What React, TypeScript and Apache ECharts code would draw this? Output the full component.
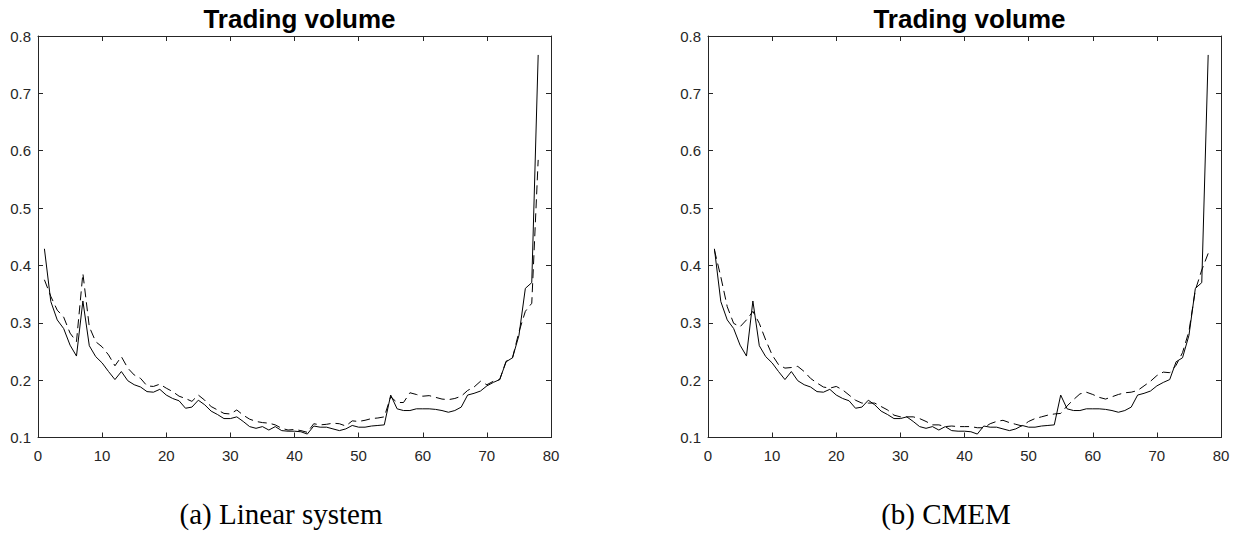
import React, { useEffect, useRef } from "react";
import * as echarts from "echarts";

const titleText = "Trading volume";
const captions = ["(a) Linear system", "(b) CMEM"];
const xTicks = { min: 0, max: 80, interval: 10 };
const yTicks = { min: 0.1, max: 0.8, interval: 0.1 };

// actual trading volume (solid, identical in both panels)
const actual = [
  0.429, 0.337, 0.305, 0.29, 0.261, 0.242, 0.338, 0.26, 0.241, 0.23,
  0.215, 0.201, 0.215, 0.199, 0.192, 0.188, 0.18, 0.179, 0.184, 0.174,
  0.168, 0.164, 0.151, 0.153, 0.165, 0.157, 0.146, 0.14, 0.133, 0.133,
  0.136, 0.128, 0.119, 0.116, 0.119, 0.113, 0.119, 0.112, 0.111, 0.111,
  0.11, 0.106, 0.12, 0.118, 0.118, 0.115, 0.112, 0.115, 0.121, 0.118,
  0.118, 0.12, 0.121, 0.122, 0.174, 0.15, 0.147, 0.147, 0.15, 0.15,
  0.15, 0.149, 0.147, 0.144, 0.147, 0.153, 0.174, 0.177, 0.181, 0.19,
  0.196, 0.201, 0.232, 0.239, 0.278, 0.36, 0.37, 0.767,
];

// linear system forecast (dashed, left panel)
const linear = [
  0.375, 0.346, 0.322, 0.31, 0.282, 0.267, 0.386, 0.293, 0.267, 0.258,
  0.244, 0.225, 0.241, 0.221, 0.209, 0.203, 0.19, 0.189, 0.193, 0.186,
  0.18, 0.172, 0.168, 0.163, 0.174, 0.165, 0.154, 0.148, 0.142, 0.141,
  0.148, 0.139, 0.132, 0.128, 0.126, 0.125, 0.122, 0.116, 0.113, 0.114,
  0.112, 0.109, 0.124, 0.122, 0.123, 0.125, 0.124, 0.12, 0.129, 0.128,
  0.13, 0.133, 0.134, 0.136, 0.171, 0.161, 0.161, 0.178, 0.175, 0.172,
  0.173, 0.17, 0.167, 0.166, 0.168, 0.172, 0.182, 0.188, 0.198, 0.192,
  0.198, 0.201, 0.233, 0.239, 0.284, 0.32, 0.334, 0.584,
];

// CMEM forecast (dashed, right panel)
const cmem = [
  0.427, 0.38, 0.328, 0.299, 0.293, 0.305, 0.32, 0.299, 0.27, 0.244,
  0.227, 0.221, 0.222, 0.224, 0.215, 0.203, 0.195, 0.188, 0.186, 0.189,
  0.183, 0.174, 0.165, 0.16, 0.16, 0.16, 0.154, 0.148, 0.139, 0.136,
  0.136, 0.136, 0.133, 0.128, 0.122, 0.122, 0.119, 0.12, 0.119, 0.119,
  0.119, 0.117, 0.117, 0.124, 0.128, 0.13, 0.126, 0.123, 0.12, 0.128,
  0.133, 0.136, 0.139, 0.141, 0.142, 0.155, 0.166, 0.176, 0.179, 0.175,
  0.17, 0.167, 0.171, 0.175, 0.178, 0.179, 0.182, 0.19, 0.198, 0.208,
  0.214, 0.213, 0.226, 0.248, 0.285, 0.357, 0.392, 0.421,
];

const AXIS_COLOR = "#262626";
const FONT = "'Liberation Sans', Arial, Helvetica, sans-serif";
const SERIF = "'Liberation Serif', 'Times New Roman', serif";

export default function App() {
  const ref = useRef<HTMLDivElement>(null);

  useEffect(() => {
    if (!ref.current) return;
    const chart = echarts.init(ref.current, undefined, { renderer: "svg" });

    const grids = [
      { left: 38, top: 36, width: 513, height: 401.5 },
      { left: 708, top: 36, width: 513, height: 401.5 },
    ];

    const xAxes: any[] = [];
    const yAxes: any[] = [];
    const lineStyle = { color: AXIS_COLOR, width: 1 };
    grids.forEach((_, gi) => {
      xAxes.push({
        type: "value",
        gridIndex: gi,
        position: "bottom",
        ...xTicks,
        axisLine: { show: true, onZero: false, lineStyle },
        axisTick: { show: true, inside: true, length: 5, lineStyle: { color: AXIS_COLOR } },
        axisLabel: { show: true, color: AXIS_COLOR, fontSize: 15, fontFamily: FONT, margin: 10 },
        splitLine: { show: false },
      });
      xAxes.push({
        type: "value",
        gridIndex: gi,
        position: "top",
        ...xTicks,
        axisLine: { show: true, onZero: false, lineStyle },
        axisTick: { show: true, inside: true, length: 5, lineStyle: { color: AXIS_COLOR } },
        axisLabel: { show: false },
        splitLine: { show: false },
      });
      yAxes.push({
        type: "value",
        gridIndex: gi,
        position: "left",
        ...yTicks,
        axisLine: { show: true, onZero: false, lineStyle },
        axisTick: { show: true, inside: true, length: 5, lineStyle: { color: AXIS_COLOR } },
        axisLabel: {
          show: true,
          color: AXIS_COLOR,
          fontSize: 15,
          fontFamily: FONT,
          margin: 7,
          formatter: (v: number) => v.toFixed(1),
        },
        splitLine: { show: false },
      });
      yAxes.push({
        type: "value",
        gridIndex: gi,
        position: "right",
        ...yTicks,
        axisLine: { show: true, onZero: false, lineStyle },
        axisTick: { show: true, inside: true, length: 5, lineStyle: { color: AXIS_COLOR } },
        axisLabel: { show: false },
        splitLine: { show: false },
      });
    });

    const toPts = (arr: number[]) => arr.map((v, i) => [i + 1, v]);

    const solid = (gi: number) => ({
      type: "line",
      xAxisIndex: gi * 2,
      yAxisIndex: gi * 2,
      data: toPts(actual),
      showSymbol: false,
      symbol: "none",
      lineStyle: { color: "#000", width: 1 },
      z: 3,
    });
    const dashed = (gi: number, arr: number[]) => ({
      type: "line",
      xAxisIndex: gi * 2,
      yAxisIndex: gi * 2,
      data: toPts(arr),
      showSymbol: false,
      symbol: "none",
      lineStyle: { color: "#000", width: 1, type: [9, 5] },
      z: 2,
    });

    const titleStyle = { fontFamily: FONT, fontWeight: "bold", fontSize: 26, color: "#000" };

    chart.setOption({
      animation: false,
      backgroundColor: "#fff",
      grid: grids,
      xAxis: xAxes,
      yAxis: yAxes,
      title: [
        { text: titleText, left: 38 + 513 / 2, textAlign: "center", top: 1, textStyle: titleStyle },
        { text: titleText, left: 708 + 513 / 2, textAlign: "center", top: 1, textStyle: titleStyle },
      ],
      graphic: [
        {
          type: "text",
          x: 281,
          y: 514,
          style: {
            text: captions[0],
            fontFamily: SERIF,
            fontSize: 29,
            fill: "#000",
            align: "center",
            verticalAlign: "middle",
          },
        },
        {
          type: "text",
          x: 946,
          y: 514,
          style: {
            text: captions[1],
            fontFamily: SERIF,
            fontSize: 29,
            fill: "#000",
            align: "center",
            verticalAlign: "middle",
          },
        },
      ],
      series: [solid(0), dashed(0, linear), solid(1), dashed(1, cmem)],
    });

    return () => chart.dispose();
  }, []);

  return (
    <div
      ref={ref}
      style={{ position: "absolute", left: 0, top: 0, width: 1234, height: 541, background: "#fff" }}
    />
  );
}
